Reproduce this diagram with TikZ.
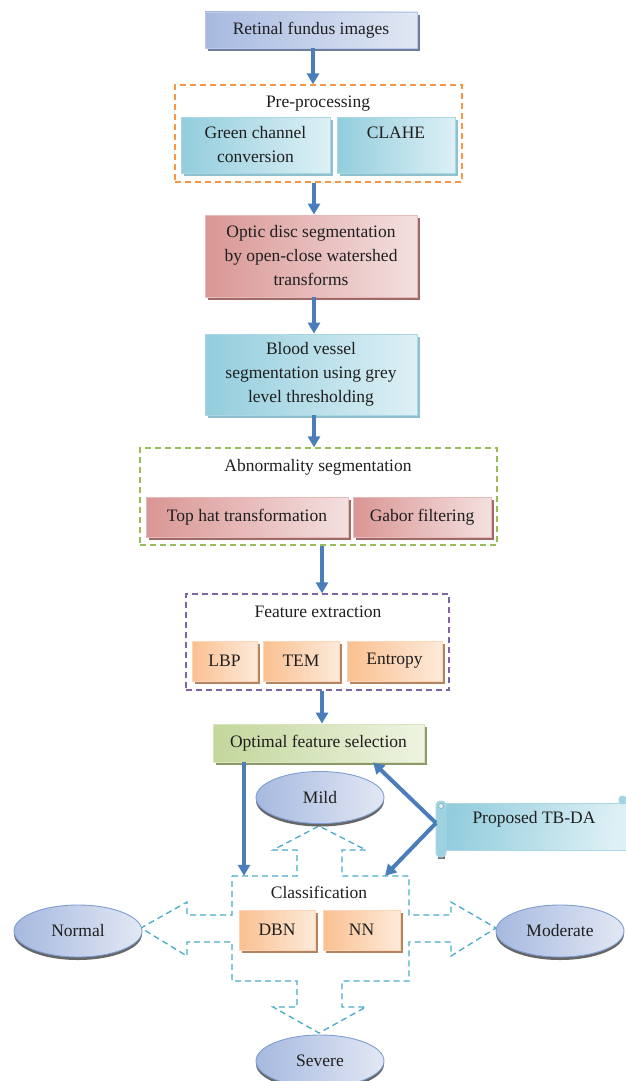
\documentclass[tikz,border=0pt]{standalone}
\usepackage{fontspec}
\setmainfont{Liberation Serif}
\usetikzlibrary{arrows.meta,shapes.geometric,shadows,calc}
\definecolor{arrblue}{HTML}{4A7EBB}
\definecolor{blueD}{HTML}{A7B9E0}\definecolor{blueL}{HTML}{E1E8F4}\definecolor{blueB}{HTML}{B9C9E8}\definecolor{blueSh}{HTML}{6E7D99}
\definecolor{tealD}{HTML}{93CDDD}\definecolor{tealL}{HTML}{DDF0F5}\definecolor{tealB}{HTML}{A9D8E4}\definecolor{tealSh}{HTML}{8FC0CE}
\definecolor{redD}{HTML}{D99694}\definecolor{redL}{HTML}{F4E0E0}\definecolor{redB}{HTML}{E6B9B8}\definecolor{redSh}{HTML}{A06A68}
\definecolor{greenD}{HTML}{C3D69B}\definecolor{greenL}{HTML}{EEF4E2}\definecolor{greenB}{HTML}{D7E4BD}\definecolor{greenSh}{HTML}{8C9A6A}
\definecolor{orD}{HTML}{FAC090}\definecolor{orL}{HTML}{FDEADA}\definecolor{orB}{HTML}{FBD5B5}\definecolor{orSh}{HTML}{B3845F}
\definecolor{ellD}{HTML}{A6B9DF}\definecolor{ellL}{HTML}{E2E8F4}\definecolor{ellB}{HTML}{7F9DD2}
\definecolor{frOr}{HTML}{F79646}\definecolor{frGr}{HTML}{9BBB59}\definecolor{frPu}{HTML}{8064A2}\definecolor{frTe}{HTML}{4BACC6}
\begin{document}
\begin{tikzpicture}[x=1pt,y=-1pt,
  every node/.style={font=\fontsize{17.5}{24}\selectfont, text=black!88},
  fbox/.style args={#1/#2/#3/#4}{rectangle, align=center, inner sep=2pt, draw=#3, line width=0.8pt,
     left color=#1, right color=#2, general shadow={fill=#4, shadow xshift=3pt, shadow yshift=-3pt}},
  bluebox/.style={fbox=blueD/blueL/blueB/blueSh},
  tealbox/.style={fbox=tealD/tealL/tealB/tealSh},
  redbox/.style={fbox=redD/redL/redB/redSh},
  greenbox/.style={fbox=greenD/greenL/greenB/greenSh},
  orbox/.style={fbox=orD/orL/orB/orSh},
  dashframe/.style={rectangle, draw=#1, line width=1.3pt, dash pattern=on 6pt off 4pt, inner sep=0pt},
  ell/.style={ellipse, minimum width=128pt, minimum height=52pt, inner sep=0pt, draw=ellB, line width=0.9pt,
     left color=ellD, right color=ellL, general shadow={fill=black!60, shadow yshift=-3pt}},
  arr/.style={draw=arrblue, line width=4pt, -{Triangle[length=11pt,width=12pt]}},
  blockarr/.style={draw=frTe, line width=1.3pt, dash pattern=on 6pt off 4pt, line join=miter}
]
\useasboundingbox (0,0) rectangle (625,1081);
\fill[white] (0,0) rectangle (625,1081);

% top chain
\node[bluebox, minimum width=212pt, minimum height=36pt] (ret) at (311,30) {Retinal fundus images};

\node[dashframe=frOr, minimum width=287pt, minimum height=97pt] (pre) at (318.5,133.5) {};
\node (prel) at (318,104) {Pre-processing};
\node[tealbox, minimum width=149pt, minimum height=56pt] (green) at (255.5,145) {Green channel\\conversion};
\node[tealbox, minimum width=118pt, minimum height=56pt] (clahe) at (396,145) {CLAHE\\\mbox{}};

\node[redbox, minimum width=212pt, minimum height=82pt] (optic) at (311,256) {Optic disc segmentation\\by open-close watershed\\transforms};

\node[tealbox, minimum width=212pt, minimum height=81pt] (blood) at (311,374.5) {Blood vessel\\segmentation using grey\\level thresholding};

\node[dashframe=frGr, minimum width=357pt, minimum height=97pt] (abn) at (318.5,496.5) {};
\node (abnl) at (318,467) {Abnormality segmentation};
\node[redbox, minimum width=202pt, minimum height=40pt] (tophat) at (247,517) {Top hat transformation};
\node[redbox, minimum width=138pt, minimum height=40pt] (gabor) at (422,517) {Gabor filtering};

\node[dashframe=frPu, minimum width=263pt, minimum height=96pt] (fe) at (317.5,642) {};
\node (fel) at (318,612) {Feature extraction};
\node[orbox, minimum width=65pt, minimum height=40pt] (lbp) at (224.5,661) {LBP};
\node[orbox, minimum width=76pt, minimum height=40pt] (tem) at (301,661) {TEM};
\node[orbox, minimum width=95pt, minimum height=40pt] (ent) at (394.5,661) {Entropy};

\node[greenbox, minimum width=211pt, minimum height=38pt] (ofs) at (318.5,743) {Optimal feature selection};

% classification block with dashed block arrows
\node[rectangle, minimum width=177pt, minimum height=105pt, inner sep=0pt] (cls) at (320.5,928.5) {};
\draw[blockarr] (232,876) -- (297,876) -- (297,850) -- (273,850) -- (319,826) -- (366,850) -- (342,850) -- (342,876)
  -- (409,876) -- (409,915) -- (451,915) -- (451,902) -- (496,928) -- (451,956) -- (451,942) -- (409,942)
  -- (409,981) -- (342,981) -- (342,1007) -- (366,1007) -- (319,1033) -- (273,1007) -- (297,1007) -- (297,981)
  -- (232,981) -- (232,942) -- (187,942) -- (187,956) -- (141,928) -- (187,902) -- (187,915) -- (232,915) -- cycle;
\node (clsl) at (319,892) {Classification};
\node[orbox, minimum width=76pt, minimum height=40pt] (dbn) at (277,930) {DBN};
\node[orbox, minimum width=77pt, minimum height=40pt] (nn) at (361.5,930) {NN};

% ellipses
\node[ell] (mild) at (320,797.5) {Mild};
\node[ell] (normal) at (78,931) {Normal};
\node[ell] (moderate) at (560,931) {Moderate};
\node[ell] (severe) at (320,1061) {Severe};

% scroll
\draw[draw=tealB, line width=0.9pt, left color=tealD, right color=tealL, shading angle=80] (441,803) rectangle (626,850);
\draw[draw=tealB, line width=0.9pt, fill=tealD!85, rounded corners=3pt] (619,796) rectangle (626,804);
\fill[black!55] (438,855) rectangle (445,859);
\draw[draw=tealB, line width=0.9pt, fill=tealD!90, rounded corners=4pt] (436,801) rectangle (446,857);
\draw[draw=tealB!80!black, line width=0.6pt, fill=tealL] (441,806) circle (2.5);
\node (tbda) at (534,819) {Proposed TB-DA};
\coordinate (tbtip) at (436,823);

% arrows
\coordinate (xa) at (313,0);
\coordinate (xb) at (314,0);
\coordinate (xc) at (322,0);
\coordinate (xd) at (244,0);
\coordinate (xe) at (373,0);
\coordinate (xf) at (385,0);
\draw[arr] (ret.south -| xa) -- (pre.north -| xa);
\draw[arr] (pre.south -| xb) -- (optic.north -| xb);
\draw[arr] (optic.south -| xb) -- (blood.north -| xb);
\draw[arr] (blood.south -| xb) -- (abn.north -| xb);
\draw[arr] (abn.south -| xc) -- (fe.north -| xc);
\draw[arr] (fe.south -| xc) -- (ofs.north -| xc);
\draw[arr] (ofs.south -| xd) -- (cls.north -| xd);
\draw[arr] (tbtip) -- (ofs.south -| xe);
\draw[arr] (tbtip) -- (cls.north -| xf);
\end{tikzpicture}
\end{document}
